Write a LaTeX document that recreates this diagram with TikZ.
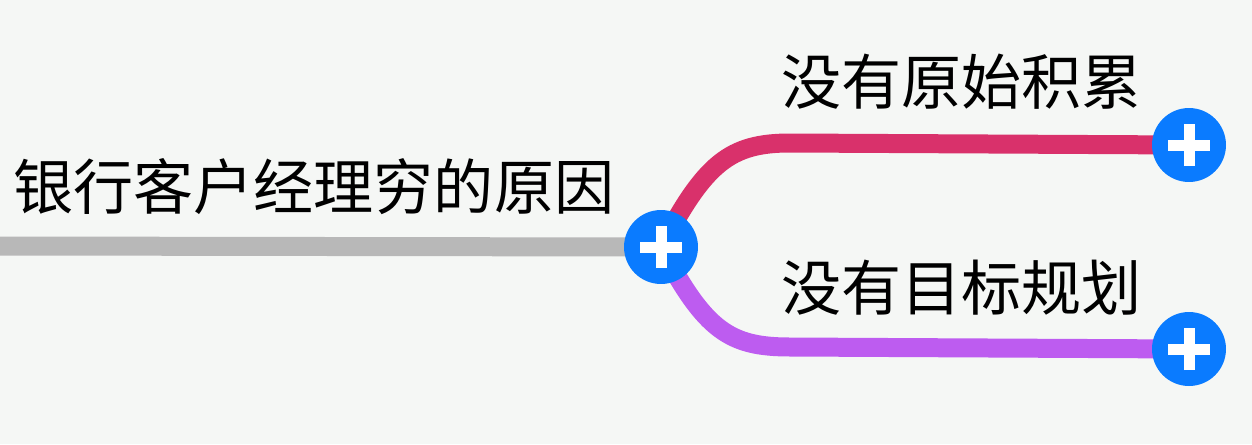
\documentclass[tikz,border=0pt]{standalone}
\usepackage{fontspec}
\setmainfont{Noto Sans CJK SC}
\usepackage{tikz}
\usetikzlibrary{backgrounds}
\definecolor{bgcol}{RGB}{245,247,245}
\definecolor{rootline}{RGB}{184,184,184}
\definecolor{pinkline}{RGB}{217,49,107}
\definecolor{purpleline}{RGB}{189,92,240}
\definecolor{togglecol}{RGB}{10,123,255}
\pagecolor{bgcol}
\tikzset{
	topic/.style={inner sep=0pt, anchor=base west, font=\fontsize{34.2}{40}\selectfont},
	toggle/.style={circle, fill=togglecol, minimum size=1.48cm, inner sep=0pt,
		path picture={
			\draw[white, line width=0.22cm] ([xshift=-0.42cm]path picture bounding box.center) -- ([xshift=0.42cm]path picture bounding box.center);
			\draw[white, line width=0.22cm] ([yshift=-0.42cm]path picture bounding box.center) -- ([yshift=0.42cm]path picture bounding box.center);
		}},
	branch/.style={line width=0.38cm}
}

\begin{document}
\begin{tikzpicture}[x=0.02cm, y=-0.02cm]
			%%%%% START %%%%%
			\useasboundingbox (0, 0) rectangle (1252, 444);
			
			\node[topic] (root) at (13, 209) {银行客户经理穷的原因};
			\node[topic] (first) at (781, 104) {没有原始积累};
			\node[topic] (second) at (781, 310) {没有目标规划};
			
			\node[toggle] (hub) at (661, 247) {};
			\node[toggle] (firstdot) at (1189, 145) {};
			\node[toggle] (seconddot) at (1189, 349) {};
			
			\coordinate (edge) at (0, 246);
			
			\begin{pgfonlayer}{background}
				\draw[branch, color=rootline] (edge) -- (hub.center);
				\draw[branch, color=pinkline] (hub.center) .. controls (705, 163) and (730, 143) .. (790, 143) -- (firstdot.center);
				\draw[branch, color=purpleline] (hub.center) .. controls (705, 331) and (730, 347) .. (790, 347) -- (seconddot.center);
			\end{pgfonlayer}
			
			%%%%% END %%%%%
\end{tikzpicture}
\end{document}
